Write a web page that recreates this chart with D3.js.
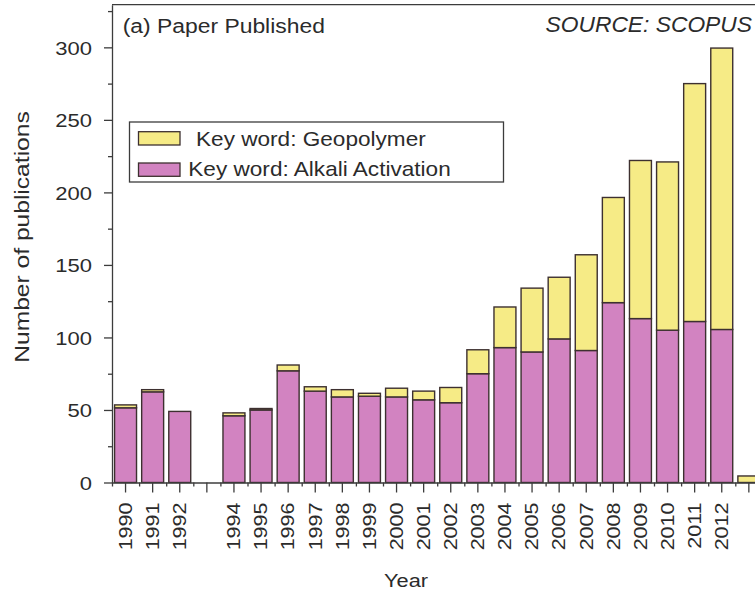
<!DOCTYPE html>
<html>
<head>
<meta charset="utf-8">
<script src="https://cdn.jsdelivr.net/npm/d3@7"></script>
<style>
  html, body { margin: 0; padding: 0; background: #fff; }
  svg { display: block; font-family: "Liberation Sans", Arial, sans-serif; }
</style>
</head>
<body>
<svg id="chart" width="755" height="598"></svg>
<script>
// Publications per year (Scopus), stacked: alkali activation at the base, geopolymer on top
const years = ["1990","1991","1992","1993","1994","1995","1996","1997","1998","1999","2000","2001",
               "2002","2003","2004","2005","2006","2007","2008","2009","2010","2011","2012","2013"];
const alkaliActivation = [51.5, 62.5, 49, 0, 46, 50, 77, 63, 59, 59.5, 59, 57,
                          55, 75, 93, 90, 99, 91, 124, 113, 105, 111, 105.5, 0];
const geopolymer = [2, 1.5, 0, 0, 2, 1, 4, 3, 5, 2, 6, 6,
                    10.5, 16.5, 28, 44, 42.5, 66, 72.5, 109, 116, 164, 194, 4.5];
const yearLabels = ["1990","1991","1992","","1994","1995","1996","1997","1998","1999","2000","2001",
                    "2002","2003","2004","2005","2006","2007","2008","2009","2010","2011","2012",""];
const yMajorTicks = [0, 50, 100, 150, 200, 250, 300];
const yMinorTicks = [25, 75, 125, 175, 225, 275, 325];
const seriesKeys = ["alkali", "geopolymer"];
const seriesNames = { geopolymer: "Key word: Geopolymer", alkali: "Key word: Alkali Activation" };
const colors = { alkali: "#d283c1", geopolymer: "#f6eb86" };

const ink = "#2b2b2b";
const axisInk = "#3c3c3c";
const barStroke = "#3d3030";

const svg = d3.select("#chart");

const plotLeft = 112, plotTop = 4.7, plotBottom = 482.5;
const step = 27.1;
const plotRight = plotLeft + years.length * step;

const x = d3.scaleBand().domain(years).range([plotLeft, plotRight])
  .paddingInner(0.19).paddingOuter(0.095);
const xEdges = d3.scaleLinear().domain([0, years.length]).range([plotLeft, plotRight]);
const y = d3.scaleLinear().domain([0, 329.4]).range([plotBottom, plotTop]);

const rows = years.map((yr, i) => ({ year: yr, alkali: alkaliActivation[i], geopolymer: geopolymer[i] }));
const stacked = d3.stack().keys(seriesKeys)(rows);

// Bars
svg.append("g").selectAll("g").data(stacked).join("g")
  .attr("fill", d => colors[d.key])
  .selectAll("rect")
  .data(d => d.filter(s => s[1] - s[0] > 0))
  .join("rect")
  .attr("x", d => x(d.data.year))
  .attr("width", x.bandwidth())
  .attr("y", d => y(d[1]))
  .attr("height", d => y(d[0]) - y(d[1]))
  .attr("stroke", barStroke)
  .attr("stroke-width", 1.4);

// Frame: top line
svg.append("line")
  .attr("x1", plotLeft).attr("x2", plotRight).attr("y1", plotTop).attr("y2", plotTop)
  .attr("stroke", axisInk).attr("stroke-width", 1.3);

// Y axis (major + minor ticks)
const yAxis = svg.append("g").attr("transform", `translate(${plotLeft},0)`)
  .call(d3.axisLeft(y).tickValues(yMajorTicks).tickSize(8).tickSizeOuter(0));
yAxis.selectAll("text")
  .attr("x", null).attr("dy", "0.36em")
  .attr("transform", "translate(-20,0) scale(1.19,1)")
  .attr("text-anchor", "end")
  .attr("fill", ink).style("font-size", "18.5px");
svg.append("g").attr("transform", `translate(${plotLeft},0)`)
  .call(d3.axisLeft(y).tickValues(yMinorTicks).tickSize(4).tickSizeOuter(0).tickFormat(""))
  .select(".domain").remove();

// X axis (major ticks at year centres, minor ticks at bar boundaries)
const xAxis = svg.append("g").attr("transform", `translate(0,${plotBottom})`)
  .call(d3.axisBottom(x).tickSize(10).tickSizeOuter(0).tickFormat((d, i) => yearLabels[i]));
xAxis.selectAll("text")
  .attr("x", 0).attr("y", 0).attr("dy", "0.36em")
  .attr("transform", "translate(0,20) rotate(-90) scale(1.23,1)")
  .attr("text-anchor", "end")
  .attr("fill", ink).style("font-size", "17.5px");
xAxis.select(".domain").attr("d", `M${plotLeft},0.5H${plotRight}`);
svg.append("g").attr("transform", `translate(0,${plotBottom})`)
  .call(d3.axisBottom(xEdges).tickValues(d3.range(0, years.length + 1)).tickSize(4).tickSizeOuter(0).tickFormat(""))
  .select(".domain").remove();

svg.selectAll(".tick line").attr("stroke", axisInk).attr("stroke-width", 1.3);
svg.selectAll(".domain").attr("stroke", axisInk).attr("stroke-width", 1.3);

// Axis titles
svg.append("text")
  .attr("transform", "translate(29,237) rotate(-90) scale(1.23,1)")
  .attr("text-anchor", "middle")
  .attr("fill", ink).style("font-size", "20px")
  .text("Number of publications");
svg.append("text")
  .attr("transform", "translate(406,587) scale(1.245,1)")
  .attr("text-anchor", "middle")
  .attr("fill", ink).style("font-size", "17.5px")
  .text("Year");

// Panel title and source note
svg.append("text")
  .attr("transform", "translate(122.7,32.5) scale(1.09,1)")
  .attr("fill", ink).style("font-size", "21px")
  .text("(a) Paper Published");
svg.append("text")
  .attr("x", 752).attr("y", 31.5)
  .attr("text-anchor", "end")
  .attr("fill", ink).style("font-size", "22.8px").style("font-style", "italic")
  .text("SOURCE: SCOPUS");

// Legend
const legend = svg.append("g");
legend.append("rect")
  .attr("x", 129.5).attr("y", 122).attr("width", 374).attr("height", 60)
  .attr("fill", "#fff").attr("stroke", axisInk).attr("stroke-width", 1.3);
const legendItems = [
  { key: "geopolymer", sy: 131.7, tx: 196, ty: 146 },
  { key: "alkali", sy: 163, tx: 188.3, ty: 175.5 }
];
legend.selectAll("rect.swatch").data(legendItems).join("rect")
  .attr("class", "swatch")
  .attr("x", 138.5).attr("y", d => d.sy).attr("width", 41.5).attr("height", 13.3)
  .attr("fill", d => colors[d.key]).attr("stroke", barStroke).attr("stroke-width", 1.3);
legend.selectAll("text").data(legendItems).join("text")
  .attr("transform", d => `translate(${d.tx},${d.ty}) scale(1.13,1)`)
  .attr("fill", ink).style("font-size", "20px")
  .text(d => seriesNames[d.key]);
</script>
</body>
</html>
